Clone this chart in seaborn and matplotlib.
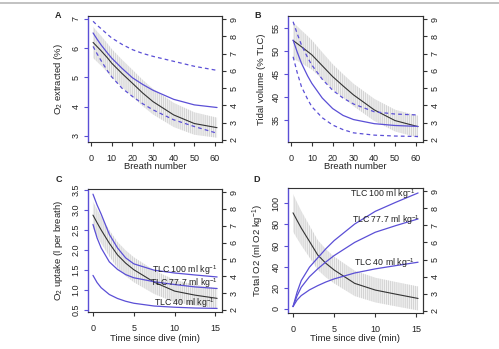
import numpy as np
import pandas as pd
import seaborn as sns
import matplotlib.pyplot as plt
from matplotlib.lines import Line2D

# x grids (breath number for A/B, minutes since dive for C/D)
breaths = [1, 3, 5, 8, 10, 15, 20, 25, 30, 40, 50, 61]
minutes = [0, 0.5, 1, 2, 3, 4, 5, 7.5, 10, 12.5, 15.2]

# A: O2 extracted (%) - model fit with bounds (left axis), observed mean +/- CI (right axis)
o2ext_fit = [6.52, 6.30, 6.10, 5.83, 5.66, 5.31, 4.99, 4.76, 4.56, 4.25, 4.06, 3.97]
o2ext_hi = [6.92, 6.78, 6.66, 6.47, 6.35, 6.13, 5.95, 5.82, 5.72, 5.55, 5.38, 5.24]
o2ext_lo = [6.06, 5.80, 5.56, 5.22, 5.02, 4.63, 4.35, 4.10, 3.89, 3.55, 3.32, 3.09]
o2ext_obs = [7.65, 7.40, 7.15, 6.75, 6.45, 5.85, 5.29, 4.72, 4.22, 3.45, 2.95, 2.71]
o2ext_ci = [0.90, 0.88, 0.86, 0.83, 0.82, 0.80, 0.78, 0.76, 0.74, 0.70, 0.65, 0.58]

# B: tidal volume (% TLC)
vt_fit = [52.45, 49.8, 47.4, 44.6, 43.0, 39.8, 37.5, 36.0, 35.1, 34.2, 33.8, 33.6]
vt_hi = [56.45, 53.8, 51.4, 48.6, 47.0, 43.9, 41.5, 39.8, 38.5, 36.8, 36.3, 36.1]
vt_lo = [48.8, 45.3, 42.3, 39.5, 37.9, 35.5, 33.9, 32.9, 32.2, 31.7, 31.5, 31.4]
vt_obs = [7.76, 7.58, 7.40, 7.12, 6.93, 6.30, 5.67, 5.13, 4.61, 3.74, 3.12, 2.77]
vt_ci = [1.05, 1.00, 0.95, 0.90, 0.85, 0.78, 0.72, 0.68, 0.65, 0.64, 0.63, 0.63]

# C: O2 uptake (l per breath) for three lung sizes
upt_100 = [3.40, 3.13, 2.90, 2.39, 2.05, 1.80, 1.65, 1.49, 1.42, 1.37, 1.32]
upt_777 = [2.64, 2.30, 2.05, 1.70, 1.51, 1.38, 1.30, 1.20, 1.13, 1.07, 1.03]
upt_40 = [1.36, 1.18, 1.05, 0.88, 0.78, 0.71, 0.66, 0.59, 0.56, 0.54, 0.53]
upt_obs = [7.63, 7.18, 6.75, 5.96, 5.27, 4.78, 4.39, 3.65, 3.12, 2.88, 2.69]
upt_ci = [0.80, 0.80, 0.79, 0.78, 0.77, 0.76, 0.74, 0.70, 0.66, 0.62, 0.59]

# D: total O2 (ml O2 per kg)
tot_100 = [2.2, 16.0, 26.8, 39.5, 48.3, 57.0, 64.7, 80.4, 92.4, 101.0, 109.8]
tot_777 = [2.2, 12.5, 20.5, 30.5, 37.9, 44.5, 50.5, 63.0, 72.6, 78.9, 85.2]
tot_40 = [2.2, 8.5, 12.6, 18.0, 22.0, 25.5, 28.4, 34.0, 37.9, 41.0, 44.2]
tot_obs = [7.73, 7.28, 6.84, 6.06, 5.27, 4.78, 4.39, 3.61, 3.22, 2.98, 2.73]
tot_ci = [1.10, 1.05, 1.00, 0.93, 0.87, 0.82, 0.78, 0.74, 0.72, 0.71, 0.70]

tlc_names = ['TLC 100 ml kg$^{-1}$', 'TLC 77.7 ml kg$^{-1}$', 'TLC 40 ml kg$^{-1}$']
upt_label_pos = [(11.2, 1.48), (11.2, 1.17), (11.2, 0.67)]
tot_label_pos = [(10.9, 108.8), (11.3, 84.5), (11.1, 43.2)]

BLUE = '#5b4fd6'
DARK = '#333333'
GREY = '#cfcfcf'

sns.set_style('white')
plt.rcParams['font.family'] = ['Liberation Sans', 'DejaVu Sans']
plt.rcParams['mathtext.fontset'] = 'custom'
plt.rcParams['mathtext.rm'] = 'Liberation Sans'
plt.rcParams['mathtext.it'] = 'Liberation Sans:italic'
plt.rcParams['mathtext.bf'] = 'Liberation Sans:bold'
plt.rcParams['hatch.linewidth'] = 0.6
plt.rcParams['hatch.color'] = GREY

fig = plt.figure(figsize=(4.99, 3.49), dpi=100)


def panel(rect, x, fits, obs, ci, xlim, ylim, yticks, xticks, ylabel, xlabel,
          ylabx, xlaby, ytickfmt='{:g}'):
    ax = fig.add_axes(rect)
    ax2 = ax.twinx()
    # observed mean with CI drawn as light grey vertical hatching (right axis)
    obs_arr = np.array(obs)
    ci_arr = np.array(ci)
    ax2.fill_between(x, obs_arr - ci_arr, obs_arr + ci_arr, facecolor='#f1f1f1',
                     edgecolor=GREY, hatch='|' * 8, linewidth=0)
    sns.lineplot(x=x, y=obs, ax=ax2, color=DARK, lw=0.8, estimator=None)
    for vals, dashed in fits:
        ls = (0, (3, 2.5)) if dashed else '-'
        sns.lineplot(x=x, y=vals, ax=ax, color=BLUE, lw=0.9, linestyle=ls,
                     estimator=None)
    ax.set_zorder(ax2.get_zorder() + 1)
    ax.patch.set_visible(False)

    ax.set_xlim(xlim)
    ax.set_ylim(ylim)
    ax2.set_ylim(1.88, 9.18)
    ax.set_xticks(xticks)
    ax.set_yticks(yticks)
    ax.set_yticklabels([ytickfmt.format(v) for v in yticks], rotation=90, va='center')
    ax2.set_yticks(range(2, 10))
    ax2.set_yticklabels([str(v) for v in range(2, 10)], rotation=90, va='center')

    for s in ['top', 'bottom', 'right']:
        ax.spines[s].set_color(DARK)
        ax.spines[s].set_linewidth(0.8)
    ax.spines['left'].set_color(BLUE)
    ax.spines['left'].set_linewidth(1.0)
    for s in ['top', 'bottom', 'left']:
        ax2.spines[s].set_visible(False)
    ax2.spines['right'].set_color(DARK)
    ax2.spines['right'].set_linewidth(0.8)

    ax.tick_params(axis='x', bottom=True, length=3, width=0.8, color=DARK,
                   labelsize=6.5, pad=5.5, labelcolor='#222222')
    ax.tick_params(axis='y', left=True, length=3, width=0.8, color=BLUE,
                   labelsize=6.5, pad=2.5, labelcolor='#222222')
    ax2.tick_params(axis='y', right=True, length=3, width=0.8, color=DARK,
                    labelsize=6.5, pad=2.5, labelcolor='#222222')
    ax2.set_ylabel('')
    ax.set_xlabel(xlabel, fontsize=6.8, color='#222222')
    ax.set_ylabel(ylabel, fontsize=6.8, color='#222222')
    ax.yaxis.set_label_coords(ylabx, 0.5)
    ax.xaxis.set_label_coords(0.5, xlaby)
    return ax


axA = panel([88 / 499, 1 - 142 / 349, 134 / 499, 126 / 349], breaths,
            [(o2ext_fit, False), (o2ext_hi, True), (o2ext_lo, True)],
            o2ext_obs, o2ext_ci, (-1.45, 63.4), (2.79, 7.10), [3, 4, 5, 6, 7],
            [0, 10, 20, 30, 40, 50, 60], 'O$_2$ extracted (%)', 'Breath number',
            -0.175, -0.16)
axB = panel([288 / 499, 1 - 142 / 349, 135 / 499, 126 / 349], breaths,
            [(vt_fit, False), (vt_hi, True), (vt_lo, True)],
            vt_obs, vt_ci, (-1.45, 63.4), (30.2, 57.7), [35, 40, 45, 50, 55],
            [0, 10, 20, 30, 40, 50, 60], 'Tidal volume (% TLC)', 'Breath number',
            -0.16, -0.16)
axC = panel([88 / 499, 1 - 312 / 349, 134 / 499, 123 / 349], minutes,
            [(upt_100, False), (upt_777, False), (upt_40, False)],
            upt_obs, upt_ci, (-0.61, 15.8), (0.44, 3.53),
            [0.5, 1.0, 1.5, 2.0, 2.5, 3.0, 3.5], [0, 5, 10, 15],
            'O$_2$ uptake (l per breath)', 'Time since dive (min)',
            -0.175, -0.18, ytickfmt='{:.1f}')
axD = panel([288 / 499, 1 - 313 / 349, 135 / 499, 125 / 349], minutes,
            [(tot_100, False), (tot_777, False), (tot_40, False)],
            tot_obs, tot_ci, (-0.61, 15.8), (-3.9, 114.5),
            [0, 20, 40, 60, 80, 100], [0, 5, 10, 15],
            'Total O2 (ml O2 kg$^{-1}$)', 'Time since dive (min)',
            -0.16, -0.17)

for name, (tx, ty) in zip(tlc_names, upt_label_pos):
    axC.text(tx, ty, name, fontsize=6.3, ha='center', va='center', color='#222222')
for name, (tx, ty) in zip(tlc_names, tot_label_pos):
    axD.text(tx, ty, name, fontsize=6.3, ha='center', va='center', color='#222222')

for letter, (px, py) in zip('ABCD', [(58, 15), (258, 15), (59, 179), (257, 179)]):
    fig.text(px / 499, 1 - py / 349, letter, fontsize=6.5, fontweight='bold',
             ha='center', va='center')

# thin grey rule along the top edge
fig.add_artist(Line2D([0, 1], [1 - 3 / 349, 1 - 3 / 349], transform=fig.transFigure,
                      color='#b8b8b8', lw=1.2))

fig.savefig('out.png', dpi=100)
